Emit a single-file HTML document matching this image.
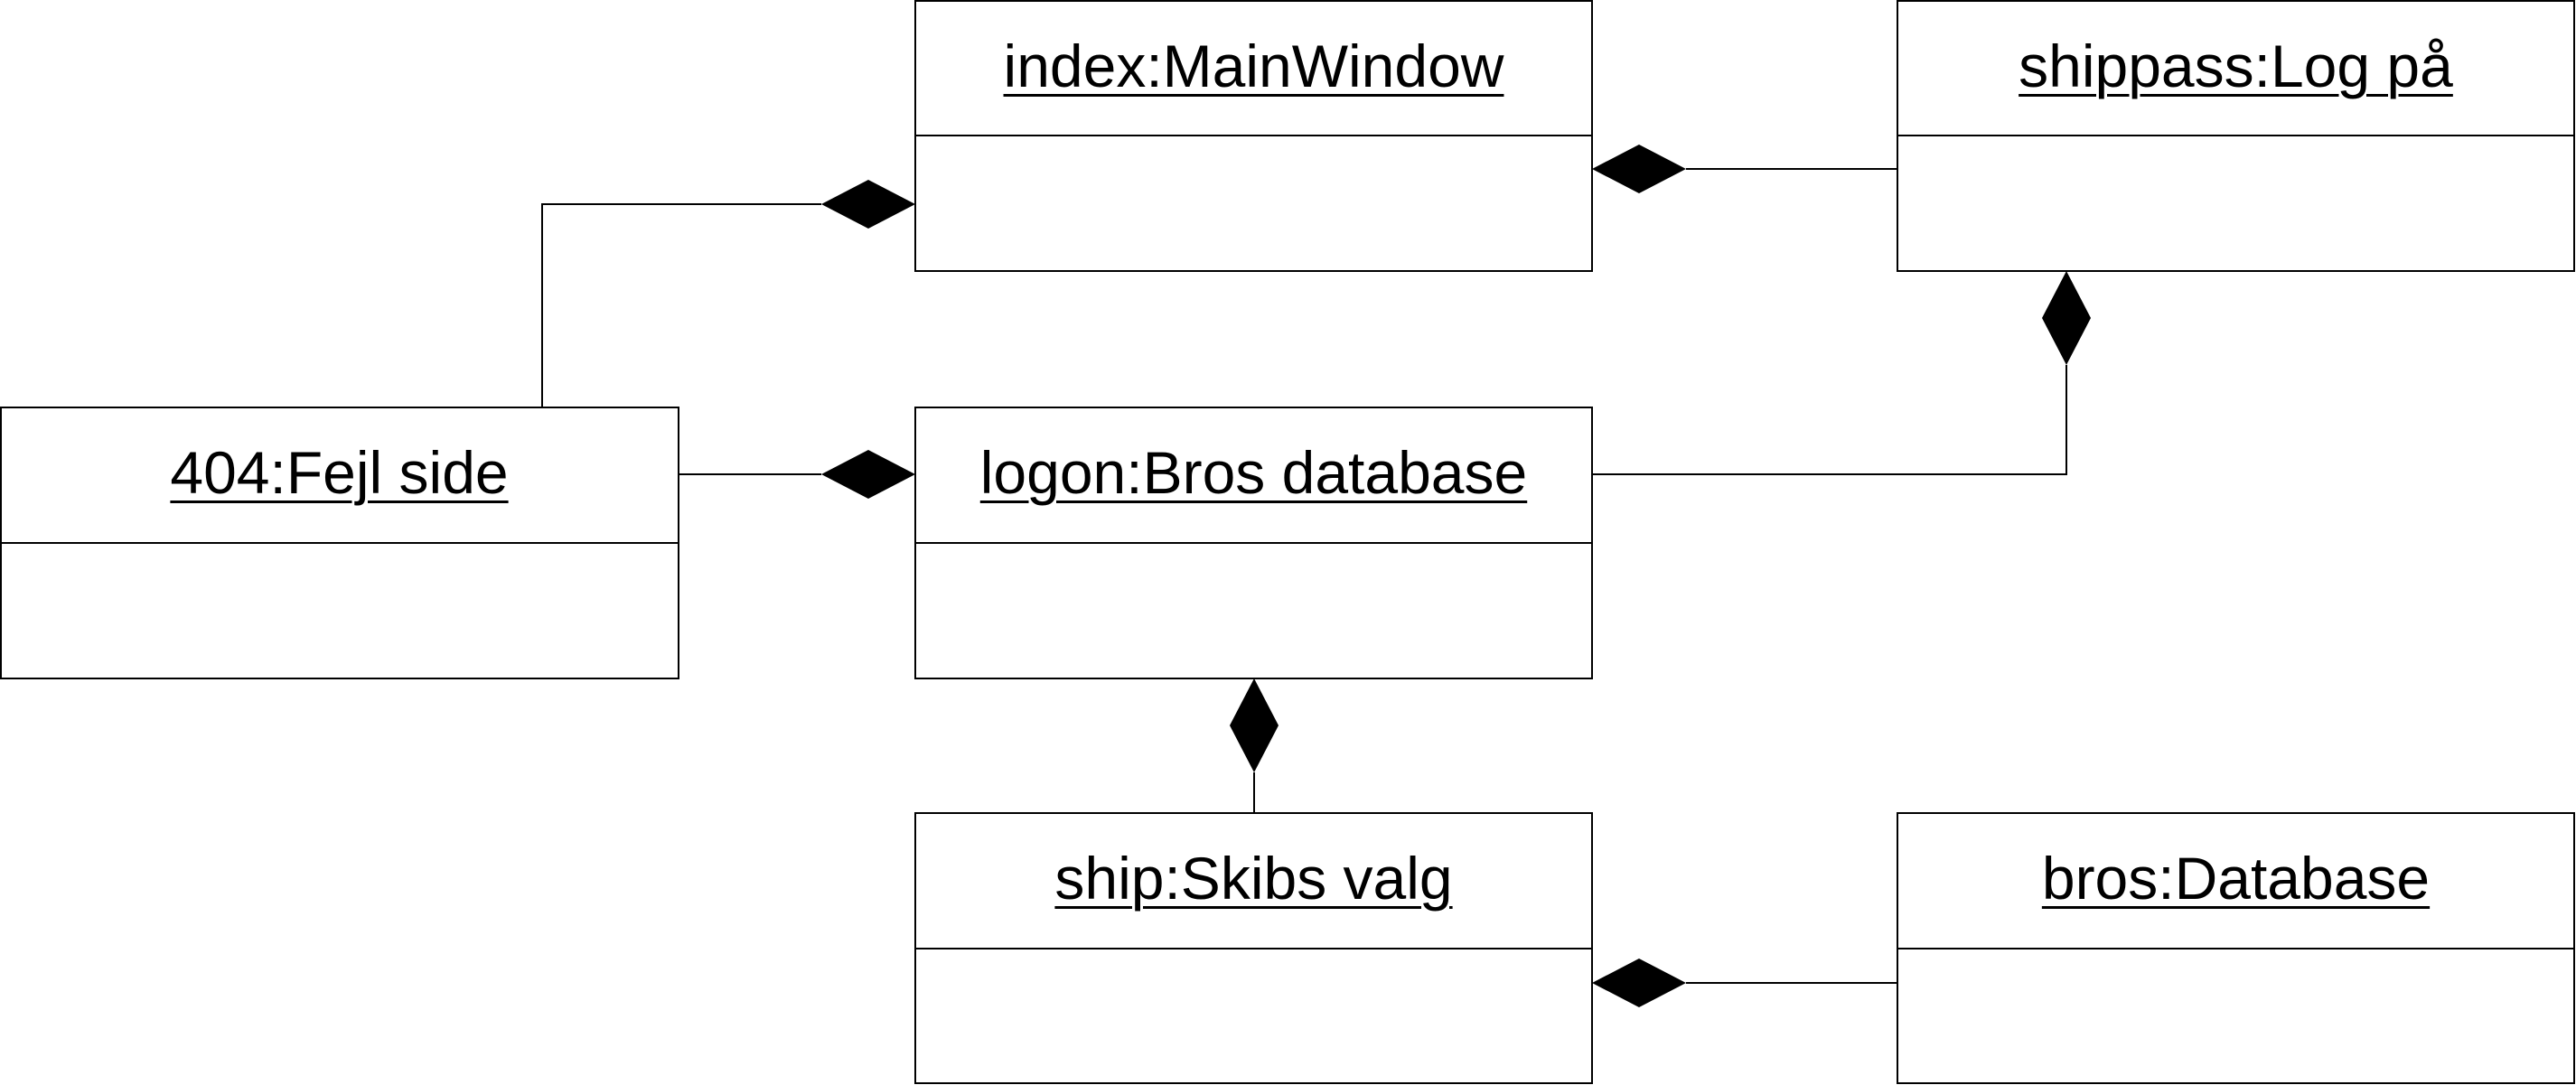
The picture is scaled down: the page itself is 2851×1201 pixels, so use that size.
<!DOCTYPE html>
<html><head><meta charset="utf-8"><style>
html,body{margin:0;padding:0;background:#fff;}
body{width:2851px;height:1201px;position:relative;overflow:hidden;}
svg{position:absolute;left:0;top:0;}
.t{position:absolute;width:749px;text-align:center;font-family:"Liberation Sans",sans-serif;font-size:66px;line-height:66px;color:#000;text-decoration:underline;text-decoration-thickness:3px;text-underline-offset:8px;white-space:nowrap;}
</style></head><body>
<svg width="2851" height="1201" viewBox="0 0 2851 1201">
<g fill="#fff" stroke="#000" stroke-width="2">
<rect x="1013" y="1" width="749" height="299"/><line x1="1013" y1="150" x2="1762" y2="150"/>
<rect x="2100" y="1" width="749" height="299"/><line x1="2100" y1="150" x2="2849" y2="150"/>
<rect x="1" y="451" width="750" height="300"/><line x1="1" y1="601" x2="751" y2="601"/>
<rect x="1013" y="451" width="749" height="300"/><line x1="1013" y1="601" x2="1762" y2="601"/>
<rect x="1013" y="900" width="749" height="299"/><line x1="1013" y1="1050" x2="1762" y2="1050"/>
<rect x="2100" y="900" width="749" height="299"/><line x1="2100" y1="1050" x2="2849" y2="1050"/>
</g>
<g fill="none" stroke="#000" stroke-width="2">
<polyline points="600,451 600,226 909,226"/>
<line x1="751" y1="525" x2="909" y2="525"/>
<line x1="1866" y1="187" x2="2100" y2="187"/>
<polyline points="1762,525 2287,525 2287,404"/>
<line x1="1388" y1="855" x2="1388" y2="900"/>
<line x1="1866" y1="1088" x2="2100" y2="1088"/>
</g>
<g fill="#000">
<polygon points="1013,226 961,199 909,226 961,253"/>
<polygon points="1013,525 961,498 909,525 961,552"/>
<polygon points="1762,187 1814,160 1866,187 1814,214"/>
<polygon points="2287,300 2314,352 2287,404 2260,352"/>
<polygon points="1388,751 1415,803 1388,855 1361,803"/>
<polygon points="1762,1088 1814,1061 1866,1088 1814,1115"/>
</g>
</svg>
<div class="t" style="left:1013px;top:40px;">index:MainWindow</div>
<div class="t" style="left:2100px;top:40px;">shippass:Log på</div>
<div class="t" style="left:1px;top:490px;">404:Fejl side</div>
<div class="t" style="left:1013px;top:490px;">logon:Bros database</div>
<div class="t" style="left:1013px;top:939px;">ship:Skibs valg</div>
<div class="t" style="left:2100px;top:939px;">bros:Database</div>
</body></html>
